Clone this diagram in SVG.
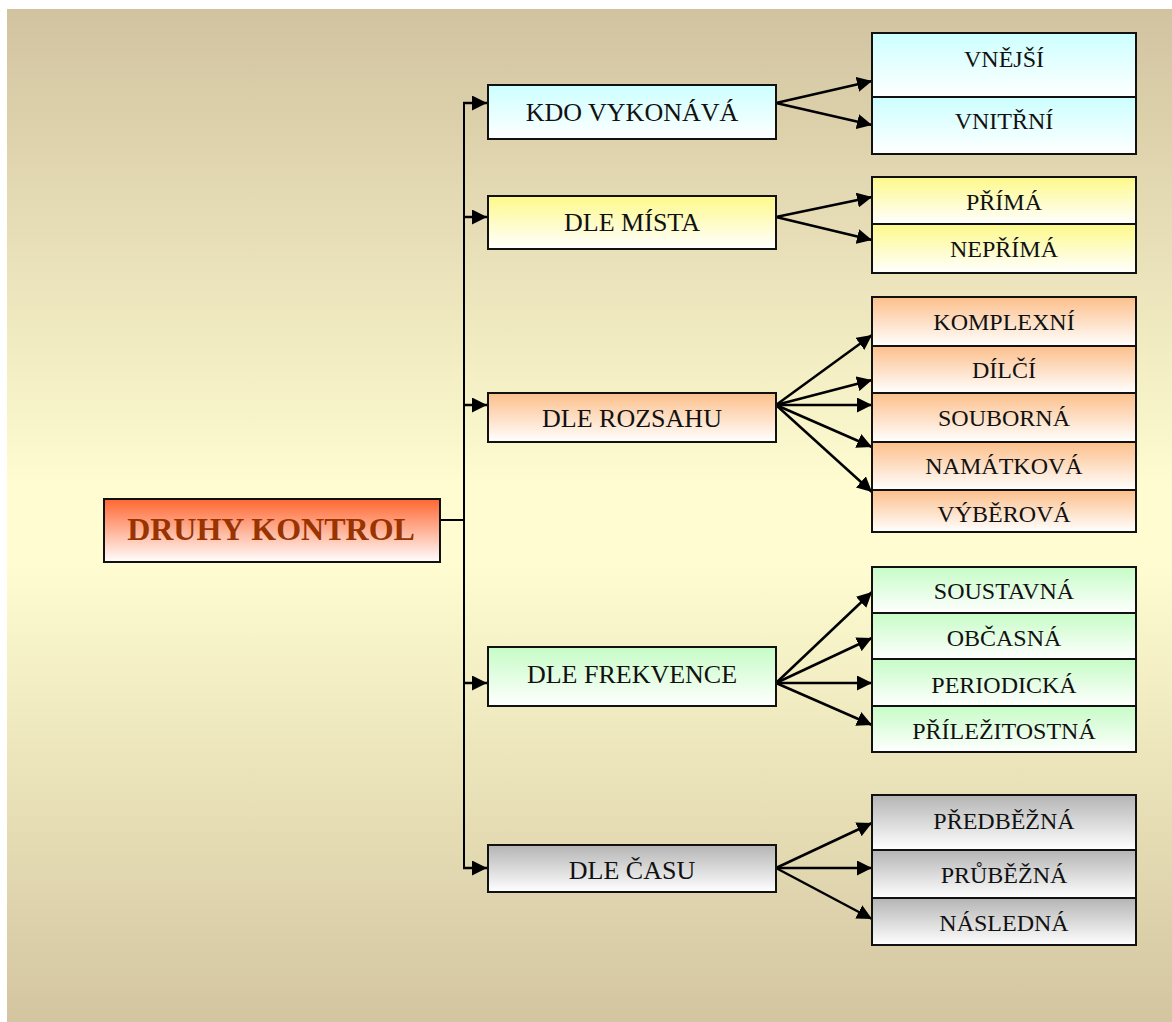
<svg xmlns="http://www.w3.org/2000/svg" width="1172" height="1022" viewBox="0 0 1172 1022">
  <defs>
    <linearGradient id="bg" x1="0" y1="0" x2="0" y2="1">
      <stop offset="0" stop-color="#d2c3a0"/>
      <stop offset="0.47" stop-color="#fefcd0"/>
      <stop offset="0.55" stop-color="#fefcd0"/>
      <stop offset="1" stop-color="#d3c5a0"/>
    </linearGradient>
    <linearGradient id="gMain" x1="0" y1="0" x2="0" y2="1">
      <stop offset="0" stop-color="#ff6630"/>
      <stop offset="1" stop-color="#ffffff"/>
    </linearGradient>
    <linearGradient id="gCyan" x1="0" y1="0" x2="0" y2="1">
      <stop offset="0" stop-color="#ccffff"/>
      <stop offset="1" stop-color="#ffffff"/>
    </linearGradient>
    <linearGradient id="gYellow" x1="0" y1="0" x2="0" y2="1">
      <stop offset="0" stop-color="#fdf98a"/>
      <stop offset="1" stop-color="#ffffff"/>
    </linearGradient>
    <linearGradient id="gPeach" x1="0" y1="0" x2="0" y2="1">
      <stop offset="0" stop-color="#fcbf8a"/>
      <stop offset="1" stop-color="#ffffff"/>
    </linearGradient>
    <linearGradient id="gGreen" x1="0" y1="0" x2="0" y2="1">
      <stop offset="0" stop-color="#c6fcc6"/>
      <stop offset="1" stop-color="#ffffff"/>
    </linearGradient>
    <linearGradient id="gGray" x1="0" y1="0" x2="0" y2="1">
      <stop offset="0" stop-color="#b4b4b4"/>
      <stop offset="1" stop-color="#ffffff"/>
    </linearGradient>
    <marker id="arrow" viewBox="0 0 15 15" refX="15" refY="7.5" markerWidth="15" markerHeight="15" markerUnits="userSpaceOnUse" orient="auto">
      <path d="M0,0 L15,7.5 L0,15 Z" fill="#000"/>
    </marker>
    <style>
      .box { stroke: #111; stroke-width: 2; }
      .lbl { font-family: "Liberation Serif", "Times New Roman", serif; fill: #111; text-anchor: middle; }
      .mid { font-size: 26px; }
      .leaf { font-size: 24px; }
      .title { font-family: "Liberation Serif", "Times New Roman", serif; font-size: 32px; font-weight: bold; fill: #993300; text-anchor: middle; }
      .trunk { stroke: #000; stroke-width: 2; fill: none; }
      .conn { stroke: #000; stroke-width: 2.5; fill: none; marker-end: url(#arrow); }
    </style>
  </defs>

  <!-- page background -->
  <rect x="0" y="0" width="1172" height="1022" fill="#ffffff"/>
  <rect x="7" y="9" width="1165" height="1013" fill="url(#bg)"/>

  <!-- connectors -->
  <g id="connectors">
    <path class="trunk" d="M440,520 H464 M464,102 V869"/>
    <path class="conn" d="M463,103 H487"/>
    <path class="conn" d="M463,217 H487"/>
    <path class="conn" d="M463,405 H487"/>
    <path class="conn" d="M463,683 H487"/>
    <path class="conn" d="M463,868 H487"/>

    <path class="conn" d="M776,103 L872,81"/>
    <path class="conn" d="M776,103 L872,125"/>

    <path class="conn" d="M776,217 L872,197"/>
    <path class="conn" d="M776,217 L872,240"/>

    <path class="conn" d="M776,405 L872,335"/>
    <path class="conn" d="M776,405 L872,380"/>
    <path class="conn" d="M776,405 L872,405"/>
    <path class="conn" d="M776,405 L872,447"/>
    <path class="conn" d="M776,405 L872,492"/>

    <path class="conn" d="M776,683 L872,592"/>
    <path class="conn" d="M776,683 L872,638"/>
    <path class="conn" d="M776,683 L872,683"/>
    <path class="conn" d="M776,683 L872,725"/>

    <path class="conn" d="M776,868 L872,823"/>
    <path class="conn" d="M776,868 L872,868"/>
    <path class="conn" d="M776,868 L872,919"/>
  </g>

  <!-- root -->
  <g id="druhy-kontrol">
    <rect class="box" x="104" y="499" width="336" height="63" fill="url(#gMain)"/>
    <text class="title" x="271" y="540">DRUHY KONTROL</text>
  </g>

  <!-- categories -->
  <g id="kdo-vykonava">
    <rect class="box" x="488" y="85" width="288" height="54" fill="url(#gCyan)"/>
    <text class="lbl mid" x="632" y="121">KDO VYKONÁVÁ</text>
  </g>
  <g id="dle-mista">
    <rect class="box" x="488" y="196" width="288" height="53" fill="url(#gYellow)"/>
    <text class="lbl mid" x="632" y="231">DLE MÍSTA</text>
  </g>
  <g id="dle-rozsahu">
    <rect class="box" x="488" y="393" width="288" height="49" fill="url(#gPeach)"/>
    <text class="lbl mid" x="632" y="427">DLE ROZSAHU</text>
  </g>
  <g id="dle-frekvence">
    <rect class="box" x="488" y="647" width="288" height="59" fill="url(#gGreen)"/>
    <text class="lbl mid" x="632" y="683">DLE FREKVENCE</text>
  </g>
  <g id="dle-casu">
    <rect class="box" x="488" y="845" width="288" height="47" fill="url(#gGray)"/>
    <text class="lbl mid" x="632" y="879">DLE ČASU</text>
  </g>

  <!-- leaves: who performs -->
  <g id="vnejsi">
    <rect class="box" x="872" y="33" width="264" height="64" fill="url(#gCyan)"/>
    <text class="lbl leaf" x="1004" y="67">VNĚJŠÍ</text>
  </g>
  <g id="vnitrni">
    <rect class="box" x="872" y="97" width="264" height="57" fill="url(#gCyan)"/>
    <text class="lbl leaf" x="1004" y="129">VNITŘNÍ</text>
  </g>

  <!-- leaves: place -->
  <g id="prima">
    <rect class="box" x="872" y="177" width="264" height="47" fill="url(#gYellow)"/>
    <text class="lbl leaf" x="1004" y="210">PŘÍMÁ</text>
  </g>
  <g id="neprima">
    <rect class="box" x="872" y="224" width="264" height="49" fill="url(#gYellow)"/>
    <text class="lbl leaf" x="1004" y="257">NEPŘÍMÁ</text>
  </g>

  <!-- leaves: scope -->
  <g id="komplexni">
    <rect class="box" x="872" y="297" width="264" height="49" fill="url(#gPeach)"/>
    <text class="lbl leaf" x="1004" y="330">KOMPLEXNÍ</text>
  </g>
  <g id="dilci">
    <rect class="box" x="872" y="346" width="264" height="47" fill="url(#gPeach)"/>
    <text class="lbl leaf" x="1004" y="378">DÍLČÍ</text>
  </g>
  <g id="souborna">
    <rect class="box" x="872" y="393" width="264" height="49" fill="url(#gPeach)"/>
    <text class="lbl leaf" x="1004" y="426">SOUBORNÁ</text>
  </g>
  <g id="namatkova">
    <rect class="box" x="872" y="442" width="264" height="48" fill="url(#gPeach)"/>
    <text class="lbl leaf" x="1004" y="474">NAMÁTKOVÁ</text>
  </g>
  <g id="vyberova">
    <rect class="box" x="872" y="490" width="264" height="42" fill="url(#gPeach)"/>
    <text class="lbl leaf" x="1004" y="522">VÝBĚROVÁ</text>
  </g>

  <!-- leaves: frequency -->
  <g id="soustavna">
    <rect class="box" x="872" y="567" width="264" height="46" fill="url(#gGreen)"/>
    <text class="lbl leaf" x="1004" y="599">SOUSTAVNÁ</text>
  </g>
  <g id="obcasna">
    <rect class="box" x="872" y="613" width="264" height="46" fill="url(#gGreen)"/>
    <text class="lbl leaf" x="1004" y="646">OBČASNÁ</text>
  </g>
  <g id="periodicka">
    <rect class="box" x="872" y="659" width="264" height="47" fill="url(#gGreen)"/>
    <text class="lbl leaf" x="1004" y="693">PERIODICKÁ</text>
  </g>
  <g id="prilezitostna">
    <rect class="box" x="872" y="706" width="264" height="46" fill="url(#gGreen)"/>
    <text class="lbl leaf" x="1004" y="739">PŘÍLEŽITOSTNÁ</text>
  </g>

  <!-- leaves: time -->
  <g id="predbezna">
    <rect class="box" x="872" y="795" width="264" height="55" fill="url(#gGray)"/>
    <text class="lbl leaf" x="1004" y="829">PŘEDBĚŽNÁ</text>
  </g>
  <g id="prubezna">
    <rect class="box" x="872" y="850" width="264" height="48" fill="url(#gGray)"/>
    <text class="lbl leaf" x="1004" y="883">PRŮBĚŽNÁ</text>
  </g>
  <g id="nasledna">
    <rect class="box" x="872" y="898" width="264" height="47" fill="url(#gGray)"/>
    <text class="lbl leaf" x="1004" y="931">NÁSLEDNÁ</text>
  </g>
</svg>
